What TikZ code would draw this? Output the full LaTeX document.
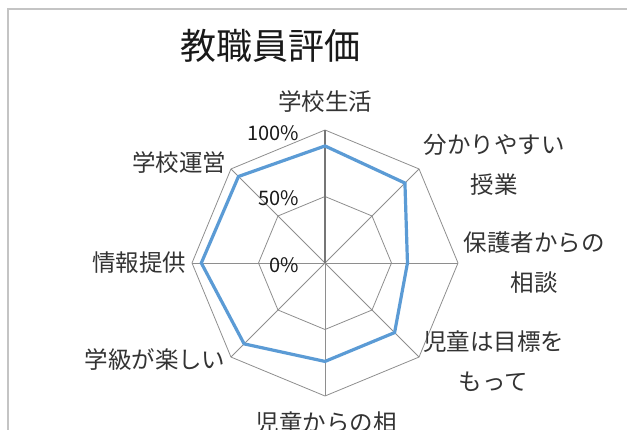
\documentclass[tikz,border=0pt]{standalone}
\usepackage{fontspec}
\setmainfont{Noto Sans CJK JP}
\usetikzlibrary{positioning}

\definecolor{gridgray}{HTML}{8E8E8E}
\definecolor{axisgray}{HTML}{767676}
\definecolor{seriesblue}{HTML}{5B9BD5}
\definecolor{framegray}{HTML}{C4C4C4}

\begin{document}
\begin{tikzpicture}[x=1pt,y=1pt,
    grid line/.style={draw=gridgray,line width=0.8pt},
    series/.style={draw=seriesblue,line width=3.2pt,line join=miter},
    axis label/.style={font=\fontsize{23.5}{40}\selectfont,text=black!80,align=center,inner sep=0pt},
    tick label/.style={font=\fontsize{20}{22}\selectfont,text=black!90,anchor=east,inner sep=0pt}]
    \useasboundingbox (0,0) rectangle (627,429);
    \draw[framegray,line width=1.4pt] (8,-5) -- (8,420) -- (632,420);

    \node[font=\fontsize{36}{40}\selectfont,text=black!90,inner sep=0pt] (title) at (270,383) {教職員評価};

    \begin{scope}[shift={(325,166)}]
        \coordinate (c) at (0,0);
        % grid: two octagons and the spokes
        \draw[grid line] (90:133) \foreach \a in {45,0,...,-225} {-- (\a:133)} -- cycle;
        \draw[grid line] (90:66.5) \foreach \a in {45,0,...,-225} {-- (\a:66.5)} -- cycle;
        \foreach \a in {45,0,...,-225}
            \draw[grid line] (c) -- (\a:133);
        \draw[axisgray,line width=1.1pt] (c) -- (90:133) coordinate (top);

        % data
        \foreach \v [count=\i from 0] in {0.88,0.85,0.62,0.74,0.74,0.86,0.93,0.92}
            \coordinate (p\i) at ({90-45*\i}:{\v*133});
        \draw[series] (p0) -- (p1) -- (p2) -- (p3) -- (p4) -- (p5) -- (p6) -- (p7) -- cycle;
    \end{scope}

    \node[tick label] (t100) at (299,296) {100\%};
    \node[tick label] (t50) at (299,231) {50\%};
    \node[tick label] (t0) at (299,164) {0\%};

    \node[axis label] (life) at (325,327) {学校生活};
    \node[axis label] (lesson) at (494,264.5) {分かりやすい\\授業};
    \node[axis label] (parent) at (534,166.5) {保護者からの\\相談};
    \node[axis label] (goal) at (493.5,68) {児童は目標を\\もって};
    \node[axis label] (consult) at (326,6) {児童からの相};
    \node[axis label] (fun) at (155,69) {学級が楽しい};
    \node[axis label] (info) at (139,166) {情報提供};
    \node[axis label] (manage) at (179,266) {学校運営};
\end{tikzpicture}
\end{document}
